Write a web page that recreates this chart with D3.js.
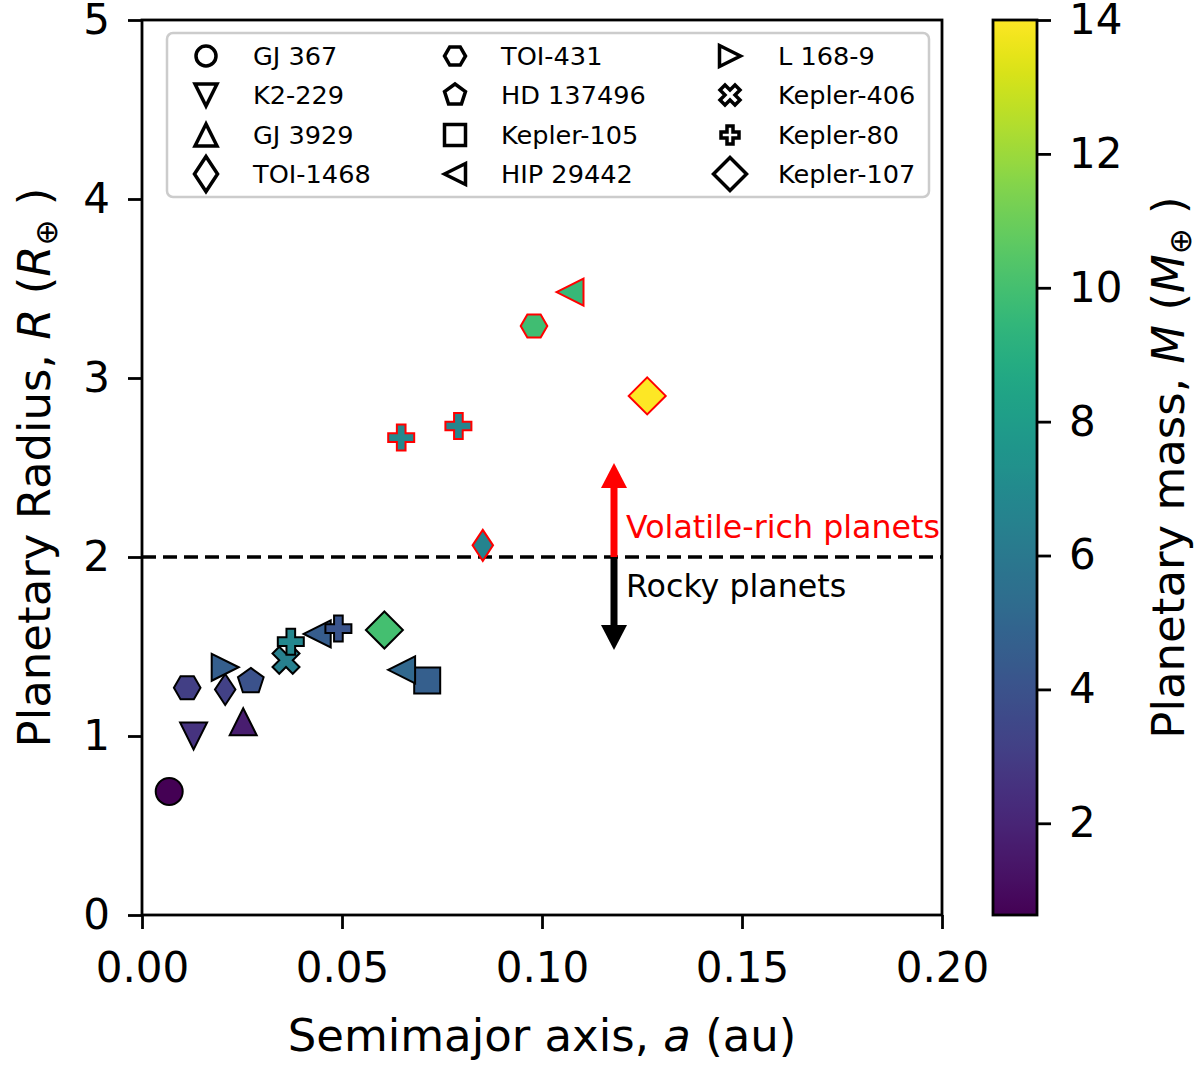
<!DOCTYPE html>
<html><head><meta charset="utf-8">
<script src="https://cdn.jsdelivr.net/npm/d3@7"></script>
<style>body{margin:0;background:#fff}svg{display:block}</style>
</head><body>
<svg id="chart" width="1200" height="1069"></svg>
<script>
// ---------------- DATA ----------------
const hosts = ["GJ 367","K2-229","GJ 3929","TOI-1468","TOI-431","HD 137496",
               "Kepler-105","HIP 29442","L 168-9","Kepler-406","Kepler-80","Kepler-107"];
const hostMarker = ["circle","triDown","triUp","thinDiamond","hexagon","pentagon",
                    "square","triLeft","triRight","xFilled","plusFilled","diamond"];

// one entry per planet (drawn in host order)
const planetHost   = ["GJ 367","K2-229","GJ 3929","TOI-1468","TOI-1468","TOI-431","TOI-431",
                      "HD 137496","Kepler-105","HIP 29442","HIP 29442","HIP 29442","L 168-9",
                      "Kepler-406","Kepler-80","Kepler-80","Kepler-80","Kepler-80","Kepler-107","Kepler-107"];
const semimajorAU  = [0.0068,0.0129,0.0253,0.0208,0.0852,0.0113,0.0980,
                      0.0272,0.0713,0.1070,0.0438,0.0649,0.0208,
                      0.0360,0.0372,0.0491,0.0648,0.0791,0.0606,0.1263];
const radiusRE     = [0.69,1.00,1.08,1.26,2.065,1.27,3.29,
                      1.305,1.31,3.48,1.57,1.37,1.384,
                      1.423,1.527,1.60,2.667,2.732,1.592,2.90];
const massME       = [0.63,2.6,1.7,3.2,6.6,3.1,9.9,
                      4.0,4.6,9.6,4.5,5.1,4.6,
                      6.4,6.8,4.1,6.9,6.7,10.0,14.0];
const volatileRich = [false,false,false,false,true,false,true,
                      false,false,true,false,false,false,
                      false,false,false,true,true,false,true];

const xTicks = [0, 0.05, 0.10, 0.15, 0.20];
const yTicks = [0, 1, 2, 3, 4, 5];
const cTicks = [2, 4, 6, 8, 10, 12, 14];
const massRange = [0.63, 14];
const radiusThreshold = 2;
const arrowA = 0.118, arrowUpTo = 2.525, arrowDownTo = 1.48;

// ---------------- STYLE ----------------
const FONT = "DejaVu Sans, Verdana, sans-serif";
const plotSize = {circle:13.5, triDown:13.5, triUp:13.5, triLeft:13.5, triRight:13.5,
                  thinDiamond:15.5, hexagon:13.3, pentagon:13.5, square:13,
                  diamond:18.5, plusFilled:13, xFilled:13.5};
const legSize  = {circle:10, triDown:11, triUp:11, triLeft:10.5, triRight:10.5,
                  thinDiamond:17.5, hexagon:10.5, pentagon:11, square:10.5,
                  diamond:16.5, plusFilled:9, xFilled:10};

// custom symbol types (size = radius in px)
function poly(pts){return {draw(ctx, r){pts.forEach((p,i)=>{const X=p[0]*r,Y=p[1]*r; i?ctx.lineTo(X,Y):ctx.moveTo(X,Y);}); ctx.closePath();}};}
const reg = (n, start) => d3.range(n).map(k=>{const t=start+k*2*Math.PI/n;return [Math.cos(t),Math.sin(t)];});
const symbolTypes = {
  circle: {draw(ctx,r){ctx.moveTo(r,0);ctx.arc(0,0,r,0,2*Math.PI);}},
  triDown: poly([[0,1],[-1,-1],[1,-1]]),
  triUp: poly([[0,-1],[-1,1],[1,1]]),
  triLeft: poly([[-1,0],[1,-1],[1,1]]),
  triRight: poly([[1,0],[-1,-1],[-1,1]]),
  thinDiamond: poly([[0,-1],[0.66,0],[0,1],[-0.66,0]]),
  hexagon: poly(reg(6,0)),
  pentagon: poly(reg(5,-Math.PI/2)),
  square: poly([[-1,-1],[1,-1],[1,1],[-1,1]]),
  diamond: poly([[0,-1],[1,0],[0,1],[-1,0]]),
  plusFilled: poly([[-1,-3],[1,-3],[1,-1],[3,-1],[3,1],[1,1],[1,3],[-1,3],[-1,1],[-3,1],[-3,-1],[-1,-1]].map(p=>[p[0]/3,p[1]/3])),
  xFilled: poly([[-1,-2],[0,-1],[1,-2],[2,-1],[1,0],[2,1],[1,2],[0,1],[-1,2],[-2,1],[-1,0],[-2,-1]].map(p=>[p[0]/2,p[1]/2]))
};

// ---------------- CHART ----------------
const svg = d3.select("#chart");
const L = 142, R = 942, T = 20, B = 915;
const x = d3.scaleLinear().domain([0, 0.2]).range([L, R]);
const y = d3.scaleLinear().domain([0, 5]).range([B, T]);
const color = d3.scaleSequential(d3.interpolateViridis).domain(massRange);
const cy = d3.scaleLinear().domain(massRange).range([B, T]);

const planets = planetHost.map((h,i)=>({host:h, a:semimajorAU[i], r:radiusRE[i], m:massME[i], vol:volatileRich[i]}));

// dashed threshold line
svg.append("line").attr("x1", x(0)).attr("x2", x(0.2)).attr("y1", y(radiusThreshold)).attr("y2", y(radiusThreshold))
  .attr("stroke","#000").attr("stroke-width",3.5).attr("stroke-dasharray","14,7");

// arrows
function arrow(a, r0, r1, col){
  const x0 = x(a), y0 = y(r0), y1 = y(r1);
  const dir = Math.sign(y1 - y0), head = 25, hw = 13;
  svg.append("line").attr("x1",x0).attr("x2",x0).attr("y1",y0).attr("y2",y1 - dir*head + dir*1)
    .attr("stroke",col).attr("stroke-width",7);
  svg.append("path").attr("d",`M${x0},${y1}L${x0-hw},${y1-dir*head}L${x0+hw},${y1-dir*head}Z`).attr("fill",col);
}
arrow(arrowA, radiusThreshold, arrowUpTo, "#ff0000");
arrow(arrowA, radiusThreshold, arrowDownTo, "#000000");

svg.append("text").attr("x", x(0.121)).attr("y", y(2.106)).attr("fill","#ff0000")
  .attr("font-family",FONT).attr("font-size",31.7).text("Volatile-rich planets");
svg.append("text").attr("x", x(0.121)).attr("y", y(1.777)).attr("fill","#000")
  .attr("font-family",FONT).attr("font-size",31.7).text("Rocky planets");

// points
const sym = d3.symbol();
svg.append("g").selectAll("path").data(planets).join("path")
  .attr("transform", d=>`translate(${x(d.a)},${y(d.r)})`)
  .attr("d", d=>{const t = hostMarker[hosts.indexOf(d.host)]; return sym.type(symbolTypes[t]).size(plotSize[t])();})
  .attr("fill", d=>color(d.m))
  .attr("stroke", d=>d.vol ? "#ff0000" : "#000")
  .attr("stroke-width", 2)
  .attr("stroke-linejoin","miter");

// frame
svg.append("rect").attr("x",L).attr("y",T).attr("width",R-L).attr("height",B-T)
  .attr("fill","none").attr("stroke","#000").attr("stroke-width",2.8);

// axes
const gx = svg.append("g").attr("transform",`translate(0,${B})`)
  .call(d3.axisBottom(x).tickValues(xTicks).tickFormat(d3.format(".2f")).tickSize(14).tickPadding(23));
const gy = svg.append("g").attr("transform",`translate(${L},0)`)
  .call(d3.axisLeft(y).tickValues(yTicks).tickFormat(d3.format("d")).tickSize(14).tickPadding(18));
[gx, gy].forEach(g=>{
  g.select(".domain").remove();
  g.selectAll(".tick line").attr("stroke","#000").attr("stroke-width",2.8);
  g.selectAll(".tick text").attr("font-family",FONT).attr("font-size",42).attr("fill","#000");
});

// axis labels
const xl = svg.append("text").attr("x",(L+R)/2).attr("y",1051).attr("text-anchor","middle")
  .attr("font-family",FONT).attr("font-size",45).attr("fill","#000");
xl.append("tspan").text("Semimajor axis, ");
xl.append("tspan").attr("font-style","italic").text("a");
xl.append("tspan").text(" (au)");

function massLabel(g, sym, word){
  const t = g.append("text").attr("text-anchor","middle").attr("font-family",FONT).attr("font-size",45).attr("fill","#000");
  t.append("tspan").text(word + ", ");
  t.append("tspan").attr("font-style","italic").text(sym);
  t.append("tspan").text(" (");
  t.append("tspan").attr("font-style","italic").text(sym);
  t.append("tspan").attr("font-size",31).attr("dy",7).text("⊕");
  t.append("tspan").attr("dy",-7).text(" )");
  return t;
}
massLabel(svg.append("g").attr("transform",`translate(50,${(T+B)/2}) rotate(-90)`), "R", "Planetary Radius");
massLabel(svg.append("g").attr("transform",`translate(1184,${(T+B)/2}) rotate(-90)`), "M", "Planetary mass");

// colorbar
const CBL = 993, CBR = 1037;
const grad = svg.append("defs").append("linearGradient").attr("id","vir").attr("x1","0").attr("y1","1").attr("x2","0").attr("y2","0");
d3.range(0,1.0001,0.02).forEach(t=>grad.append("stop").attr("offset",t).attr("stop-color",d3.interpolateViridis(t)));
svg.append("rect").attr("x",CBL).attr("y",T).attr("width",CBR-CBL).attr("height",B-T).attr("fill","url(#vir)")
  .attr("stroke","#000").attr("stroke-width",2.8);
const gc = svg.append("g").attr("transform",`translate(${CBR},0)`)
  .call(d3.axisRight(cy).tickValues(cTicks).tickFormat(d3.format("d")).tickSize(14).tickPadding(18));
gc.select(".domain").remove();
gc.selectAll(".tick line").attr("stroke","#000").attr("stroke-width",2.8);
gc.selectAll(".tick text").attr("font-family",FONT).attr("font-size",42).attr("fill","#000");

// legend
const leg = svg.append("g");
leg.append("rect").attr("x",167).attr("y",33).attr("width",762).attr("height",164).attr("rx",6)
  .attr("fill","#fff").attr("fill-opacity",0.8).attr("stroke","#cccccc").attr("stroke-width",2.5);
const colMarkX = [206, 455, 730], colTextX = [253, 501, 778], rowY = [56, 95, 135, 174];
hosts.forEach((h,i)=>{
  const c = Math.floor(i/4), r = i%4, t = hostMarker[i];
  leg.append("path").attr("transform",`translate(${colMarkX[c]},${rowY[r]})`)
    .attr("d", sym.type(symbolTypes[t]).size(legSize[t])())
    .attr("fill","#fff").attr("stroke","#000").attr("stroke-width",3.5);
  leg.append("text").attr("x",colTextX[c]).attr("y",rowY[r]).attr("dy","0.36em")
    .attr("font-family",FONT).attr("font-size",25.6).attr("fill","#000").text(h);
});
</script>
</body></html>
